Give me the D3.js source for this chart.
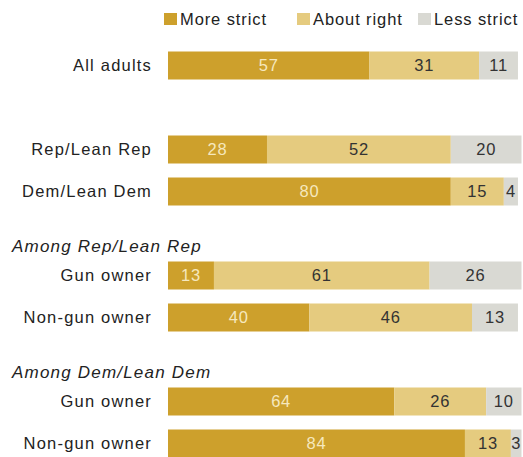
<!DOCTYPE html>
<html>
<head>
<meta charset="utf-8">
<script src="https://cdn.jsdelivr.net/npm/d3@7/dist/d3.min.js"></script>
<style>
  html, body { margin: 0; padding: 0; background: #fff; }
  svg { display: block; }
  text { font-family: "Liberation Sans", Arial, sans-serif; }
</style>
</head>
<body>
<svg id="chart" width="523" height="457"></svg>
<script>
const categories = ["All adults", "Rep/Lean Rep", "Dem/Lean Dem", "Gun owner", "Non-gun owner", "Gun owner", "Non-gun owner"];
const slots = [0, 2, 3, 5, 6, 8, 9];
const moreStrict = [57, 28, 80, 13, 40, 64, 84];
const aboutRight = [31, 52, 15, 61, 46, 26, 13];
const lessStrict = [11, 20, 4, 26, 13, 10, 3];
const seriesNames = ["More strict", "About right", "Less strict"];
const subheads = ["Among Rep/Lean Rep", "Among Dem/Lean Dem"];
const subheadSlots = [4, 7];

const colors = ["#CDA02C", "#E5CB7F", "#D9D9D3"];
const textColors = ["#F6E8BE", "#333333", "#333333"];

const svg = d3.select("#chart");
const x = d3.scaleLinear().domain([0, 100]).range([168, 521.5]);
const y = d3.scaleBand().domain(d3.range(10)).range([44.5, 464.5]).paddingInner(1/3).paddingOuter(1/6);

const rows = categories.map((c, i) => ({ cat: c, slot: slots[i], vals: [moreStrict[i], aboutRight[i], lessStrict[i]] }));
const stack = d3.stack().keys([0, 1, 2]).value((d, k) => d.vals[k]);
const layers = stack(rows);

const fontSize = 16.5;
const ls = 1.2;

// bars
layers.forEach((layer, k) => {
  const g = svg.append("g");
  g.selectAll("rect").data(layer).join("rect")
    .attr("x", d => x(d[0]))
    .attr("y", d => y(d.data.slot))
    .attr("width", d => x(d[1]) - x(d[0]))
    .attr("height", y.bandwidth())
    .attr("fill", colors[k]);
  g.selectAll("text").data(layer).join("text")
    .attr("x", d => (x(d[0]) + x(d[1])) / 2)
    .attr("y", d => y(d.data.slot) + y.bandwidth() / 2)
    .attr("dy", "0.36em")
    .attr("text-anchor", "middle")
    .attr("font-size", fontSize)
    .attr("letter-spacing", 0.8)
    .attr("fill", textColors[k])
    .text(d => d.data.vals[k]);
});

// category labels
svg.append("g").selectAll("text").data(rows).join("text")
  .attr("x", 152)
  .attr("y", d => y(d.slot) + y.bandwidth() / 2)
  .attr("dy", "0.36em")
  .attr("text-anchor", "end")
  .attr("font-size", fontSize)
  .attr("letter-spacing", ls)
  .attr("fill", "#222")
  .text(d => d.cat);

// subheads
svg.append("g").selectAll("text").data(subheads).join("text")
  .attr("x", 12)
  .attr("y", (d, i) => y(subheadSlots[i]) + y.bandwidth() / 2 + 18)
  .attr("font-size", 17)
  .attr("font-style", "italic")
  .attr("letter-spacing", ls)
  .attr("fill", "#222")
  .text(d => d);

// legend
const legendX = [164, 297, 418];
const lg = svg.append("g").selectAll("g").data(seriesNames).join("g")
  .attr("transform", (d, i) => `translate(${legendX[i]},13)`);
lg.append("rect").attr("width", 13).attr("height", 12).attr("fill", (d, i) => colors[i]);
lg.append("text").attr("x", 16).attr("y", 12)
  .attr("font-size", fontSize)
  .attr("letter-spacing", 0.9)
  .attr("fill", "#222")
  .text(d => d);
</script>
</body>
</html>
